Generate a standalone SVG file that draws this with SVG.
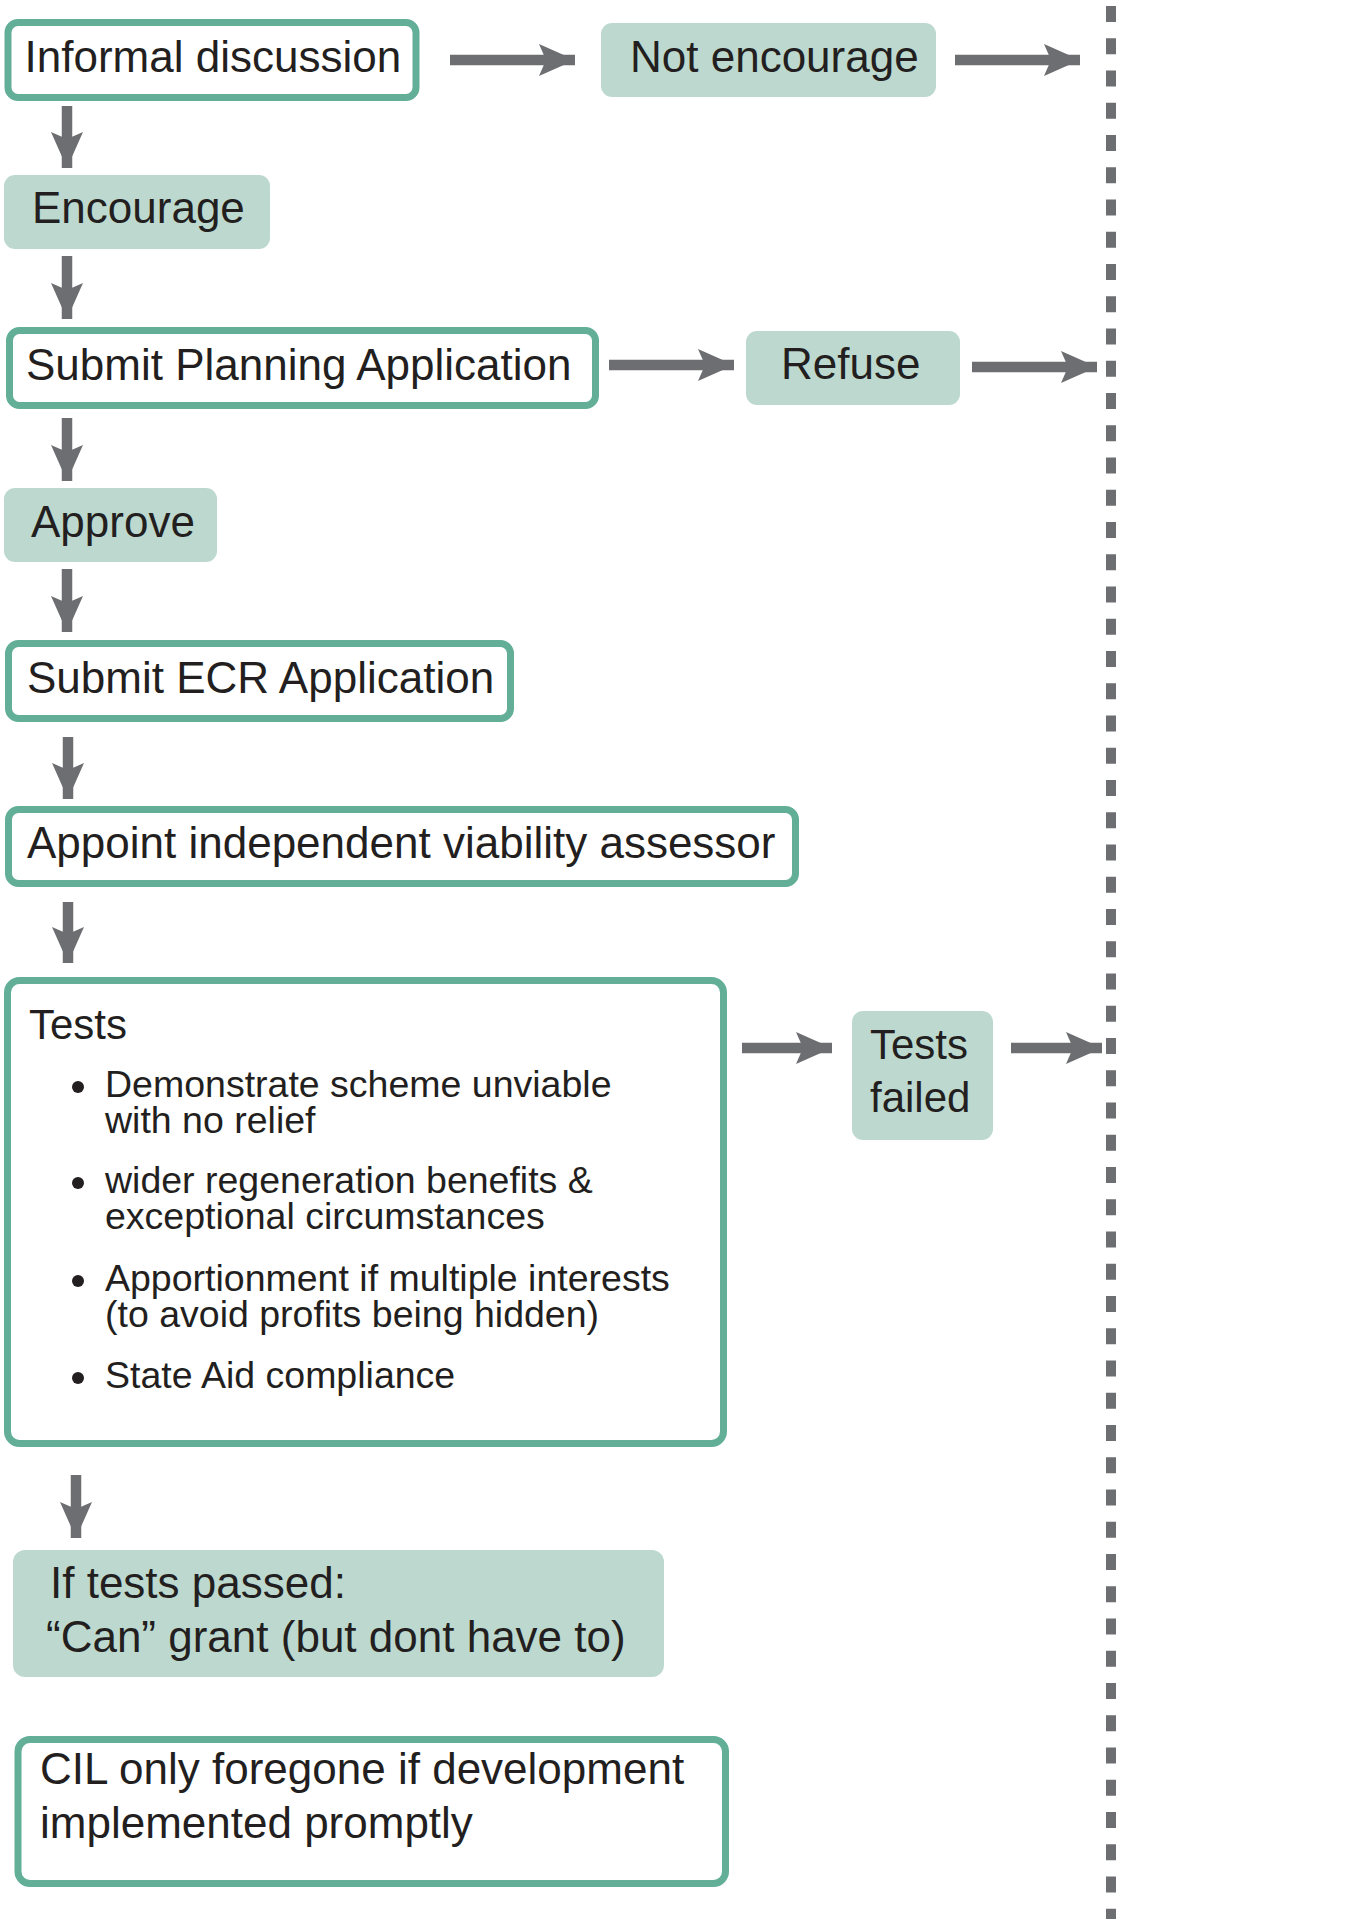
<svg xmlns="http://www.w3.org/2000/svg" width="1365" height="1919" viewBox="0 0 1365 1919">
<style>
  .outline { fill: #ffffff; stroke: #62ae97; stroke-width: 7; }
  .filled { fill: #bdd9cf; stroke: none; }
  .t { font-family: "Liberation Sans", Arial, sans-serif; font-size: 44px; fill: #231f20; }
  .tb { font-family: "Liberation Sans", Arial, sans-serif; font-size: 37.5px; fill: #231f20; }
  .arrow { stroke: #6d6e71; stroke-width: 10.5; fill: none; marker-end: url(#head); }
  .divider { stroke: #6d6e71; stroke-width: 10; stroke-dasharray: 16 16.25; fill: none; }
</style>
<defs>
  <marker id="head" markerUnits="userSpaceOnUse" markerWidth="40" markerHeight="36" viewBox="0 -18 38 36" refX="36" refY="0" orient="auto">
    <path d="M0,-16 L36,0 L0,16 L7,0 Z" fill="#6d6e71"/>
  </marker>
</defs>
<rect width="1365" height="1919" fill="#ffffff"/>

<g id="connectors">
  <line class="arrow" x1="450" y1="60" x2="575" y2="60"/>
  <line class="arrow" x1="955" y1="60" x2="1080" y2="60"/>
  <line class="arrow" x1="67" y1="106" x2="67" y2="168"/>
  <line class="arrow" x1="67" y1="256" x2="67" y2="319"/>
  <line class="arrow" x1="609" y1="365" x2="734" y2="365"/>
  <line class="arrow" x1="972" y1="367" x2="1097" y2="367"/>
  <line class="arrow" x1="67" y1="418" x2="67" y2="481"/>
  <line class="arrow" x1="67" y1="569" x2="67" y2="632"/>
  <line class="arrow" x1="68" y1="737" x2="68" y2="799"/>
  <line class="arrow" x1="68" y1="902" x2="68" y2="963"/>
  <line class="arrow" x1="742" y1="1048" x2="832" y2="1048"/>
  <line class="arrow" x1="1011" y1="1048" x2="1102" y2="1048"/>
  <line class="arrow" x1="76" y1="1475" x2="76" y2="1538"/>
  <line class="divider" x1="1111" y1="6" x2="1111" y2="1919"/>
</g>

<g id="informal-discussion">
  <rect class="outline" x="8" y="22.5" width="408" height="75" rx="10"/>
  <text class="t" x="24.5" y="72">Informal discussion</text>
</g>
<g id="not-encourage">
  <rect class="filled" x="601" y="23" width="335" height="74" rx="11"/>
  <text class="t" x="630" y="72">Not encourage</text>
</g>
<g id="encourage">
  <rect class="filled" x="4" y="175" width="266" height="74" rx="11"/>
  <text class="t" x="32" y="223">Encourage</text>
</g>
<g id="submit-planning">
  <rect class="outline" x="9.5" y="330.5" width="586" height="75" rx="10"/>
  <text class="t" x="26" y="380">Submit Planning Application</text>
</g>
<g id="refuse">
  <rect class="filled" x="746" y="331" width="214" height="74" rx="11"/>
  <text class="t" x="781" y="379">Refuse</text>
</g>
<g id="approve">
  <rect class="filled" x="4" y="488" width="213" height="74" rx="11"/>
  <text class="t" x="31" y="537">Approve</text>
</g>
<g id="submit-ecr">
  <rect class="outline" x="8.5" y="643.5" width="502" height="75" rx="10"/>
  <text class="t" x="27" y="693">Submit ECR Application</text>
</g>
<g id="appoint-assessor">
  <rect class="outline" x="8.5" y="809.5" width="787" height="74" rx="10"/>
  <text class="t" x="27" y="858">Appoint independent viability assessor</text>
</g>
<g id="tests">
  <rect class="outline" x="7.5" y="980.5" width="716" height="463" rx="12"/>
  <text class="t" x="29" y="1039" style="font-size:42px">Tests</text>
  <circle cx="78" cy="1087" r="6" fill="#231f20"/>
  <text class="tb" x="105" y="1097">Demonstrate scheme unviable</text>
  <text class="tb" x="105" y="1133">with no relief</text>
  <circle cx="78" cy="1183" r="6" fill="#231f20"/>
  <text class="tb" x="105" y="1193">wider regeneration benefits &amp;</text>
  <text class="tb" x="105" y="1229">exceptional circumstances</text>
  <circle cx="78" cy="1281" r="6" fill="#231f20"/>
  <text class="tb" x="105" y="1291">Apportionment if multiple interests</text>
  <text class="tb" x="105" y="1327">(to avoid profits being hidden)</text>
  <circle cx="78" cy="1378" r="6" fill="#231f20"/>
  <text class="tb" x="105" y="1388">State Aid compliance</text>
</g>
<g id="tests-failed">
  <rect class="filled" x="852" y="1011" width="141" height="129" rx="11"/>
  <text class="t" x="870" y="1059" style="font-size:42px">Tests</text>
  <text class="t" x="870" y="1112" style="font-size:42px">failed</text>
</g>
<g id="tests-passed">
  <rect class="filled" x="13" y="1550" width="651" height="127" rx="12"/>
  <text class="t" x="50" y="1598">If tests passed:</text>
  <text class="t" x="46" y="1652">“Can” grant (but dont have to)</text>
</g>
<g id="cil">
  <rect class="outline" x="18" y="1739.5" width="707.5" height="144" rx="12"/>
  <text class="t" x="40" y="1784">CIL only foregone if development</text>
  <text class="t" x="40" y="1838">implemented promptly</text>
</g>
</svg>
